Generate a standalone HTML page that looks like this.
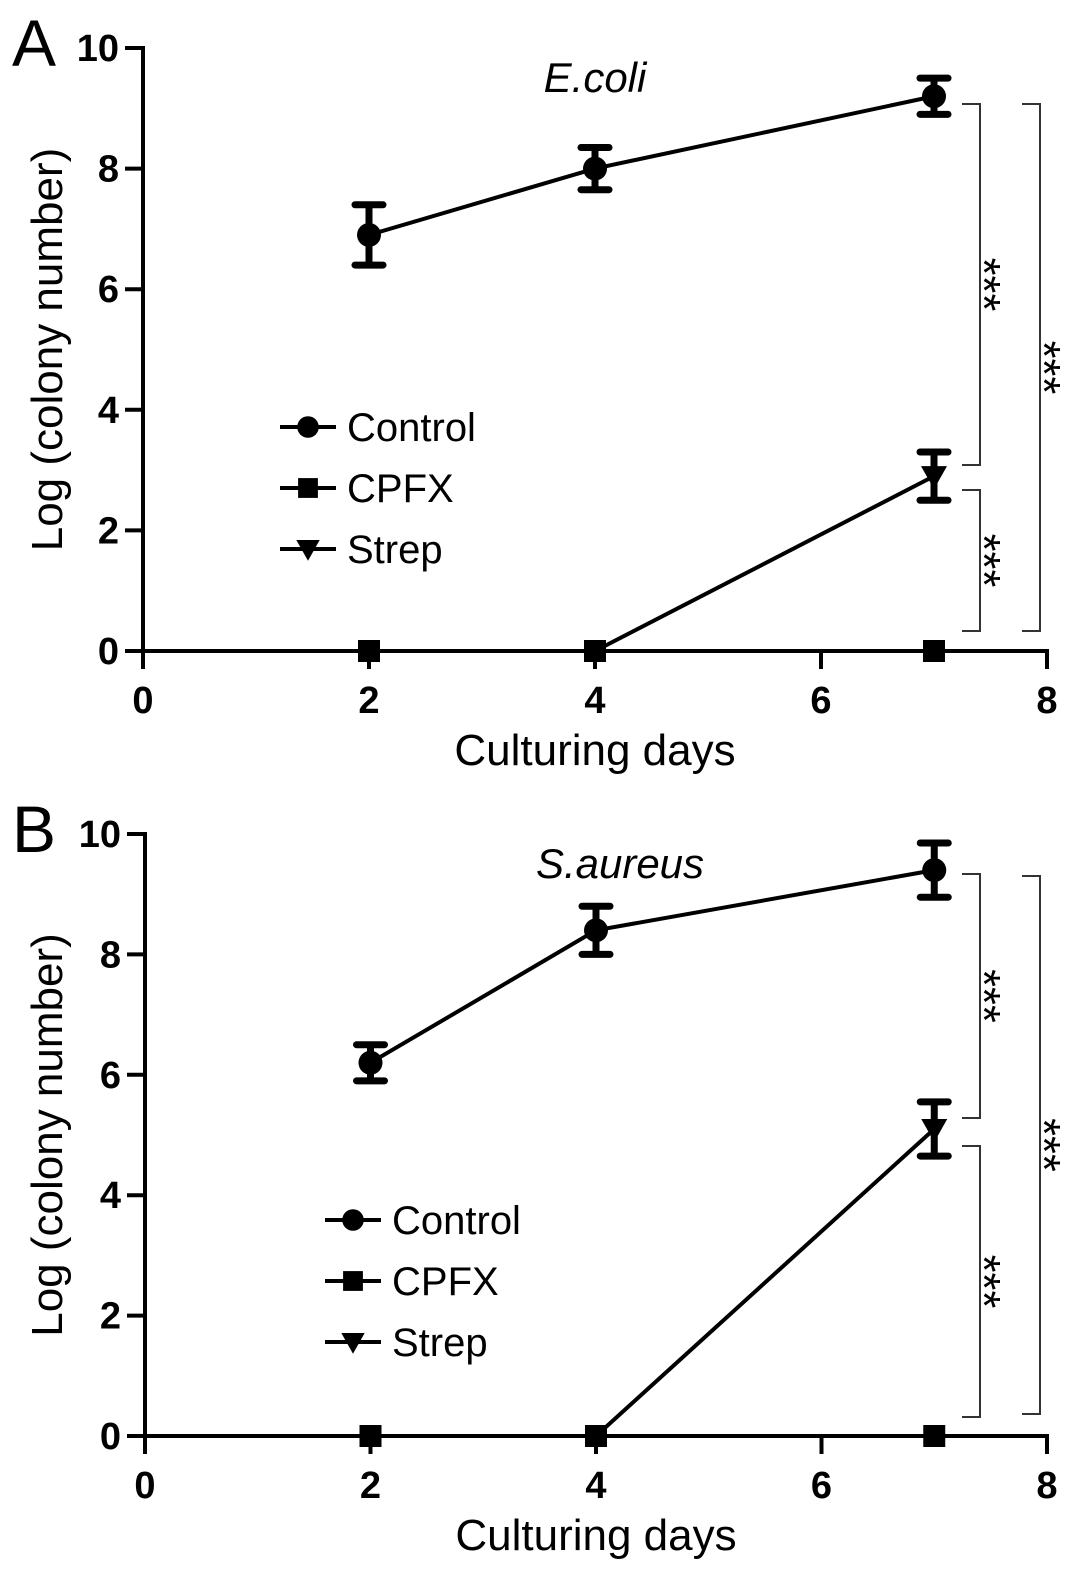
<!DOCTYPE html>
<html><head><meta charset="utf-8"><style>
html,body{margin:0;padding:0;background:#fff;}
svg{display:block;font-family:"Liberation Sans",Arial,sans-serif;}
</style></head><body>
<svg id="chart" width="1087" height="1592" viewBox="0 0 1087 1592"></svg>
<script>
const days = [2, 4, 7];
const xTicks = [0, 2, 4, 6, 8];
const yTicks = [0, 2, 4, 6, 8, 10];
const controlA = [6.9, 8.0, 9.2];
const controlErrA = [0.5, 0.35, 0.3];
const cpfxA = [0, 0, 0];
const strepA = [0, 0, 2.9];
const strepErrA = [0, 0, 0.4];
const controlB = [6.2, 8.4, 9.4];
const controlErrB = [0.3, 0.4, 0.45];
const cpfxB = [0, 0, 0];
const strepB = [0, 0, 5.1];
const strepErrB = [0, 0, 0.45];
const legendLabels = ["Control", "CPFX", "Strep"];

const NS = "http://www.w3.org/2000/svg";
const svg = document.getElementById("chart");
function mk(tag, attrs, parent, text){
  const e = document.createElementNS(NS, tag);
  for (const k in attrs) e.setAttribute(k, attrs[k]);
  if (text !== undefined) e.textContent = text;
  (parent || svg).appendChild(e);
  return e;
}
function marker(g, type, cx, cy, s){
  let m;
  if (type === 0) m = mk("circle", {cx: cx, cy: cy, r: 12*s, fill: "#000"}, g);
  else if (type === 1) m = mk("rect", {x: cx-11*s, y: cy-11*s, width: 22*s, height: 22*s, fill: "#000"}, g);
  else m = mk("polygon", {points: `${cx-13*s},${cy-10*s} ${cx+13*s},${cy-10*s} ${cx},${cy+13*s}`, fill: "#000"}, g);
  return m;
}
function panel(o){
  const g = mk("g", {});
  
  
  const X = v => o.x0 + (o.x1 - o.x0) * v / 8;
  const Y = v => o.y0 - (o.y0 - o.y10) * v / 10;
  const ya = mk("line", {x1: X(0), y1: Y(10)-2, x2: X(0), y2: Y(0)+2, stroke: "#000", "stroke-width": 4}, g);
  
  
  const xa = mk("line", {x1: X(0)-2, y1: Y(0), x2: X(8)+2, y2: Y(0), stroke: "#000", "stroke-width": 4}, g);
  
  
  yTicks.forEach(t => {
    mk("line", {x1: X(0)-18, y1: Y(t), x2: X(0), y2: Y(t), stroke: "#000", "stroke-width": 4}, g);
    const lb = mk("text", {x: X(0)-24, y: Y(t)+13, "text-anchor": "end", "font-size": 38, "font-weight": "bold"}, g, String(t));
    
    
  });
  xTicks.forEach(t => {
    mk("line", {x1: X(t), y1: Y(0), x2: X(t), y2: Y(0)+18, stroke: "#000", "stroke-width": 4}, g);
    const lb = mk("text", {x: X(t), y: Y(0)+62, "text-anchor": "middle", "font-size": 38, "font-weight": "bold"}, g, String(t));
    
    
  });
  const xt = mk("text", {x: (X(0)+X(8))/2, y: Y(0)+114, "text-anchor": "middle", "font-size": 44}, g, "Culturing days");
  
  
  const ymid = (Y(0)+Y(10))/2;
  const yt = mk("text", {x: 0, y: 0, "text-anchor": "middle", "font-size": 44, transform: `translate(62,${ymid}) rotate(-90)`}, g, "Log (colony number)");
  
  
  const pl = mk("text", {x: 12, y: Y(10)+18, "font-size": 66}, g, o.letter);
  
  
  const tt = mk("text", {x: o.titleX, y: Y(10)+44, "text-anchor": "middle", "font-size": 42, "font-style": "italic"}, g, o.title);
  
  
  const series = [[o.control, o.controlErr, 0], [o.cpfx, null, 1], [o.strep, o.strepErr, 2]];
  series.forEach(([vals, errs, type]) => {
    const pts = days.map((d, i) => `${X(d)},${Y(vals[i])}`).join(" ");
    const ln = mk("polyline", {points: pts, fill: "none", stroke: "#000", "stroke-width": 4}, g);
    
    
    days.forEach((d, i) => {
      if (type === 2 && vals[i] === 0) return;
      if (errs && errs[i] > 0) {
        const cx = X(d), hi = Y(vals[i]+errs[i]), lo = Y(vals[i]-errs[i]);
        mk("line", {x1: cx, y1: hi, x2: cx, y2: lo, stroke: "#000", "stroke-width": 7}, g);
        mk("line", {x1: cx-14, y1: hi, x2: cx+14, y2: hi, stroke: "#000", "stroke-width": 7, "stroke-linecap": "round"}, g);
        mk("line", {x1: cx-14, y1: lo, x2: cx+14, y2: lo, stroke: "#000", "stroke-width": 7, "stroke-linecap": "round"}, g);
      }
      const m = marker(g, type, X(d), Y(vals[i]), 1);
      
      
    });
  });
  legendLabels.forEach((lab, i) => {
    const ly = o.legY + i * 61;
    const lg = mk("g", {}, g);
    
    
    mk("line", {x1: o.legX, y1: ly, x2: o.legX+56, y2: ly, stroke: "#000", "stroke-width": 4}, lg);
    marker(lg, i, o.legX+28, ly, 0.9);
    mk("text", {x: o.legX+67, y: ly+14, "font-size": 40}, lg, lab);
  });
  o.brackets.forEach(b => {
    const bg = mk("g", {}, g);
    
    
    mk("polyline", {points: `${b.x-18},${b.t} ${b.x},${b.t} ${b.x},${b.b} ${b.x-18},${b.b}`, fill: "none", stroke: "#333", "stroke-width": 2}, bg);
    const m = (b.t + b.b) / 2;
    mk("text", {x: 0, y: 0, "text-anchor": "middle", "font-size": 46, transform: `translate(${b.x-12},${m}) rotate(90)`}, bg, "***");
  });
}
panel({name: "panel-a-ecoli", letter: "A", title: "E.coli", titleX: 595, x0: 143, x1: 1047, y0: 651, y10: 48,
  control: controlA, controlErr: controlErrA, cpfx: cpfxA, strep: strepA, strepErr: strepErrA,
  legX: 280, legY: 427,
  brackets: [{x: 980, t: 104, b: 465}, {x: 980, t: 490, b: 631}, {x: 1040, t: 104, b: 631}]});
panel({name: "panel-b-saureus", letter: "B", title: "S.aureus", titleX: 620, x0: 145, x1: 1047, y0: 1436, y10: 834,
  control: controlB, controlErr: controlErrB, cpfx: cpfxB, strep: strepB, strepErr: strepErrB,
  legX: 325, legY: 1220,
  brackets: [{x: 980, t: 874, b: 1118}, {x: 980, t: 1146, b: 1417}, {x: 1040, t: 876, b: 1414}]});
</script>
</body></html>
